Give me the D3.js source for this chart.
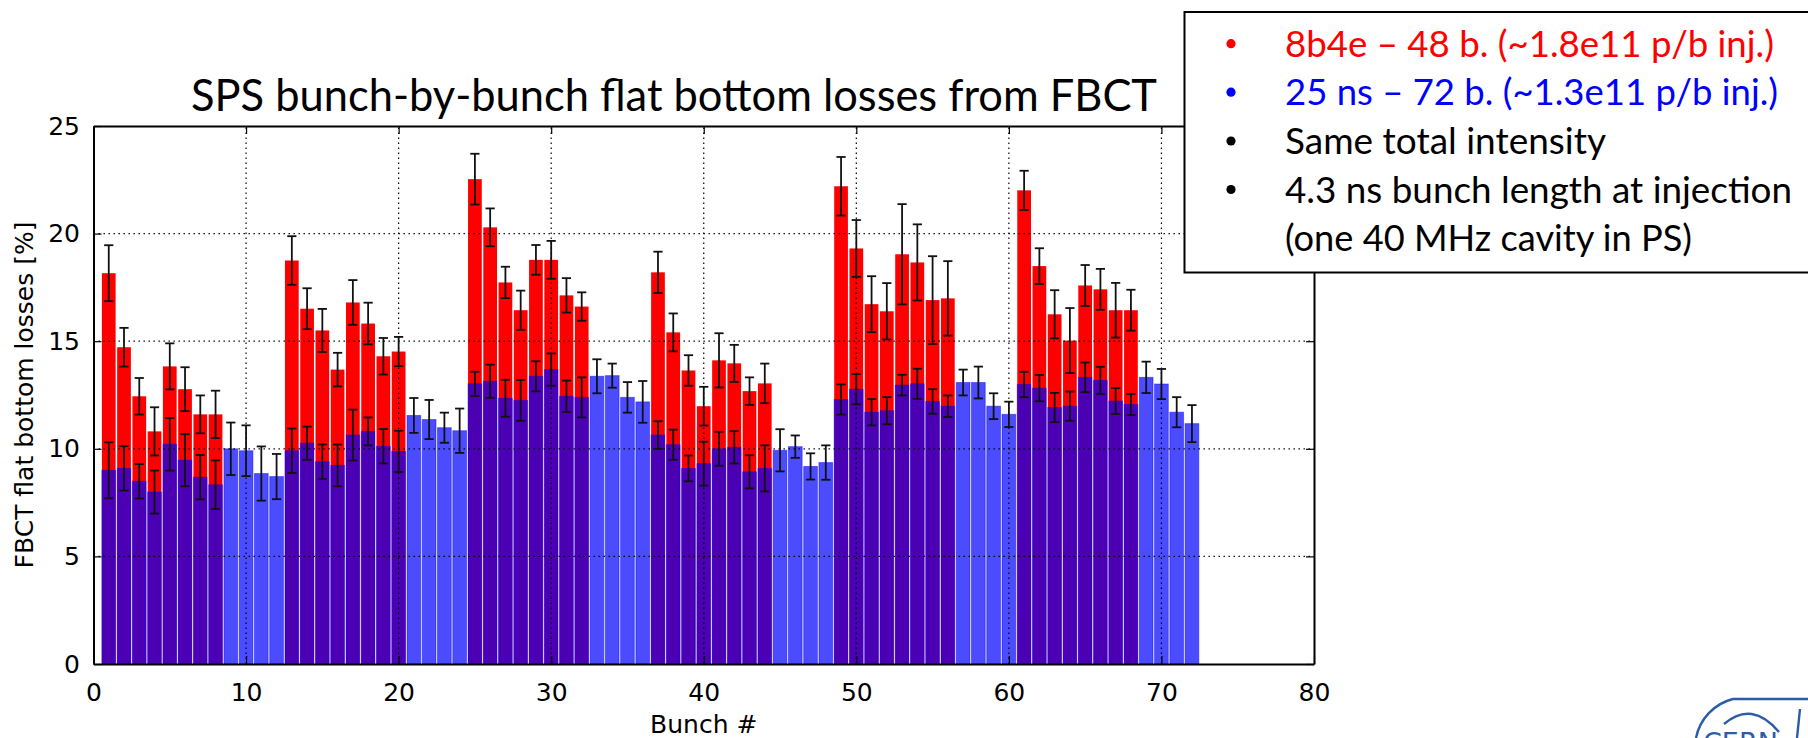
<!DOCTYPE html>
<html>
<head>
<meta charset="utf-8">
<script src="https://cdn.jsdelivr.net/npm/d3@7"></script>
<style>
  html, body { margin: 0; padding: 0; background: #fff; }
  svg { display: block; }
</style>
</head>
<body>
<svg id="chart" width="1808" height="738"></svg>
<script>
// ---------------- data ----------------
const titleText = "SPS bunch-by-bunch flat bottom losses from FBCT";
const xLabel = "Bunch #";
const yLabel = "FBCT flat bottom losses [%]";
const xTicks = [0, 10, 20, 30, 40, 50, 60, 70, 80];
const yTicks = [0, 5, 10, 15, 20, 25];

// 8b4e – 48 bunches (red)
const redBunch = [1,2,3,4,5,6,7,8, 13,14,15,16,17,18,19,20, 25,26,27,28,29,30,31,32,
                  37,38,39,40,41,42,43,44, 49,50,51,52,53,54,55,56, 61,62,63,64,65,66,67,68];
const redLoss = [18.16,14.72,12.44,10.81,13.83,12.77,11.60,11.60,
                 18.75,16.51,15.50,13.68,16.80,15.82,14.30,14.52,
                 22.53,20.29,17.73,16.44,18.78,18.78,17.13,16.61,
                 18.20,15.41,13.64,11.98,14.11,13.97,12.68,13.04,
                 22.20,19.31,16.72,16.39,19.04,18.66,16.91,16.99,
                 22.01,18.49,16.25,15.03,17.59,17.41,16.44,16.44];
const redErr = [1.30,0.90,0.85,1.12,1.07,1.02,0.88,1.10,
                1.13,0.95,1.00,0.78,1.04,0.97,0.85,0.68,
                1.18,0.88,0.73,0.91,0.69,0.88,0.80,0.66,
                0.96,0.88,0.71,0.90,1.26,0.86,0.64,0.92,
                1.36,1.32,1.30,1.31,2.33,1.77,2.04,1.73,
                0.91,0.83,1.12,1.51,0.95,0.95,1.27,0.95];

// 25 ns – 72 bunches (blue)
const blueBunch = [1,2,3,4,5,6,7,8,9,10,11,12,13,14,15,16,17,18,19,20,21,22,23,24,
                   25,26,27,28,29,30,31,32,33,34,35,36,37,38,39,40,41,42,43,44,45,46,47,48,
                   49,50,51,52,53,54,55,56,57,58,59,60,61,62,63,64,65,66,67,68,69,70,71,72];
const blueLoss = [9.00,9.09,8.49,7.99,10.21,9.47,8.68,8.33, 10.00,9.91,8.85,8.71,
                  9.91,10.26,9.40,9.23,10.64,10.81,10.12,9.88, 11.55,11.36,10.98,10.84,
                  13.02,13.14,12.35,12.25,13.37,13.68,12.44,12.39, 13.37,13.40,12.39,12.18,
                  10.64,10.19,9.09,9.31,10.00,10.07,8.93,9.09, 9.93,10.10,9.18,9.36,
                  12.29,12.77,11.70,11.77,12.96,13.02,12.20,11.98, 13.08,13.08,11.98,11.60,
                  12.99,12.82,11.92,11.98,13.32,13.18,12.22,12.06, 13.32,13.01,11.70,11.17];
const blueErr = [1.30,1.03,0.80,1.00,1.22,1.21,1.03,1.13, 1.22,1.18,1.26,1.05,
                 1.03,0.77,0.80,0.97,1.18,0.65,0.80,0.96, 0.81,0.91,0.70,1.03,
                 0.56,0.77,0.86,0.95,0.70,0.75,0.73,0.93, 0.79,0.56,0.71,0.97,
                 0.64,0.70,0.60,1.02,0.79,0.75,0.77,1.07, 0.98,0.52,0.61,0.80,
                 0.70,0.70,0.61,0.63,0.48,0.70,0.57,0.50, 0.60,0.74,0.60,0.59,
                 0.59,0.61,0.68,0.68,0.69,0.63,0.60,0.49, 0.73,0.70,0.70,0.86];

const legendLines = [
  {text: "8b4e \u2013 48 b. (~1.8e11 p/b inj.)", color: "#ff0000", bullet: true},
  {text: "25 ns \u2013 72 b. (~1.3e11 p/b inj.)", color: "#0000ff", bullet: true},
  {text: "Same total intensity", color: "#000000", bullet: true},
  {text: "4.3 ns bunch length at injection", color: "#000000", bullet: true},
  {text: "(one 40 MHz cavity in PS)", color: "#000000", bullet: false}
];
const legendWidths = [489, 493, 321, 507, 407];

// ---------------- layout ----------------
const svg = d3.select("#chart");
const X0 = 93.5, X1 = 1314, Y0 = 664, Y1 = 126;
const x = d3.scaleLinear().domain([0, 80]).range([X0, X1]);
const y = d3.scaleLinear().domain([0, 25]).range([Y0, Y1]);
const barW = 0.9;
const tickFont = "'DejaVu Sans', sans-serif";
const textFont = "Lato, 'Open Sans', sans-serif";

const red = redBunch.map((b, i) => ({b, v: redLoss[i], e: redErr[i]}));
const blue = blueBunch.map((b, i) => ({b, v: blueLoss[i], e: blueErr[i]}));

const plot = svg.append("g");

// red bars
plot.selectAll("rect.red").data(red).enter().append("rect")
  .attr("class", "red")
  .attr("x", d => x(d.b - barW / 2))
  .attr("width", d => x(barW) - x(0))
  .attr("y", d => y(d.v))
  .attr("height", d => y(0) - y(d.v))
  .attr("fill", "#ff0000");

// blue bars (semi-transparent)
plot.selectAll("rect.blue").data(blue).enter().append("rect")
  .attr("class", "blue")
  .attr("x", d => x(d.b - barW / 2))
  .attr("width", d => x(barW) - x(0))
  .attr("y", d => y(d.v))
  .attr("height", d => y(0) - y(d.v))
  .attr("fill", "#0000ff")
  .attr("fill-opacity", 0.7)
  .attr("stroke", "#0000ff")
  .attr("stroke-opacity", 0.45)
  .attr("stroke-width", 1);

// grid (dotted, on top)
const grid = svg.append("g").attr("stroke", "#000").attr("stroke-width", 1.2)
  .attr("stroke-dasharray", "1.4,3.6").attr("fill", "none");
xTicks.filter(t => t > 0 && t < 80).forEach(t => {
  grid.append("line").attr("x1", x(t)).attr("x2", x(t)).attr("y1", Y0).attr("y2", Y1);
});
yTicks.filter(t => t > 0 && t < 25).forEach(t => {
  grid.append("line").attr("x1", X0).attr("x2", X1).attr("y1", y(t)).attr("y2", y(t));
});

// error bars
function drawErr(data, cls) {
  const g = svg.append("g").attr("class", cls).attr("stroke", "#111").attr("stroke-width", 1.8);
  const capHalf = 4.6;
  data.forEach(d => {
    const cx = x(d.b);
    g.append("line").attr("x1", cx).attr("x2", cx).attr("y1", y(d.v - d.e)).attr("y2", y(d.v + d.e));
    g.append("line").attr("x1", cx - capHalf).attr("x2", cx + capHalf).attr("y1", y(d.v + d.e)).attr("y2", y(d.v + d.e));
    g.append("line").attr("x1", cx - capHalf).attr("x2", cx + capHalf).attr("y1", y(d.v - d.e)).attr("y2", y(d.v - d.e));
  });
}
drawErr(red, "err-red");
drawErr(blue, "err-blue");

// axes
const axB = d3.axisBottom(x).tickValues(xTicks).tickSizeInner(-8).tickSizeOuter(0).tickPadding(19);
const axT = d3.axisTop(x).tickValues(xTicks).tickSizeInner(-8).tickSizeOuter(0).tickFormat("");
const axL = d3.axisLeft(y).tickValues(yTicks).tickSizeInner(-8).tickSizeOuter(0).tickPadding(13.5);
const axR = d3.axisRight(y).tickValues(yTicks).tickSizeInner(-8).tickSizeOuter(0).tickFormat("");

function styleAxis(g) {
  g.select(".domain").attr("stroke", "#000").attr("stroke-width", 2);
  g.selectAll(".tick line").attr("stroke", "#000").attr("stroke-width", 1.2);
  g.selectAll(".tick text").attr("font-family", tickFont).attr("font-size", 25).attr("fill", "#000");
  g.attr("font-family", null).attr("font-size", null);
}
svg.append("g").attr("transform", `translate(0,${Y0})`).call(axB).call(styleAxis);
svg.append("g").attr("transform", `translate(0,${Y1})`).call(axT).call(styleAxis);
svg.append("g").attr("transform", `translate(${X0},0)`).call(axL).call(styleAxis);
svg.append("g").attr("transform", `translate(${X1},0)`).call(axR).call(styleAxis);

// axis labels
svg.append("text").attr("x", (X0 + X1) / 2).attr("y", 733).attr("text-anchor", "middle")
  .attr("font-family", tickFont).attr("font-size", 25).attr("fill", "#000").text(xLabel);
svg.append("text").attr("transform", `translate(33,${(Y0 + Y1) / 2}) rotate(-90)`)
  .attr("text-anchor", "middle").attr("font-family", tickFont).attr("font-size", 25)
  .attr("fill", "#000").text(yLabel);

// title
svg.append("text").attr("x", 191).attr("y", 111)
  .attr("font-family", textFont).attr("font-size", 45)
  .attr("fill", "#000").attr("textLength", 966).attr("lengthAdjust", "spacingAndGlyphs")
  .text(titleText);

// legend box
const lg = svg.append("g");
lg.append("rect").attr("x", 1184.5).attr("y", 12).attr("width", 700).attr("height", 260.5)
  .attr("fill", "#fff").attr("stroke", "#000").attr("stroke-width", 2);
const baselines = [56.7, 105.2, 154, 202.5, 250.5];
legendLines.forEach((l, i) => {
  if (l.bullet) {
    lg.append("circle").attr("cx", 1231).attr("cy", baselines[i] - 13).attr("r", 4.6).attr("fill", l.color);
  }
  lg.append("text").attr("x", 1285).attr("y", baselines[i])
    .attr("font-family", textFont).attr("font-size", 37)
    .attr("fill", l.color).attr("textLength", legendWidths[i]).attr("lengthAdjust", "spacingAndGlyphs")
    .text(l.text);
});

// partial CERN logo (bottom right)
const logo = svg.append("g").attr("stroke", "#2a5ca8").attr("fill", "none").attr("stroke-width", 2.4);
logo.append("path").attr("d", "M1696,738 A50,50 0 0 1 1733,699 L1808,699");
logo.append("path").attr("d", "M1724,724 Q1752,700 1779,732");
logo.append("path").attr("d", "M1800,709 L1797,738");
svg.append("text").attr("x", 1703).attr("y", 752).attr("font-family", "'DejaVu Sans', sans-serif")
  .attr("font-size", 27).attr("fill", "#2a5ca8").text("CERN");
</script>
</body>
</html>
